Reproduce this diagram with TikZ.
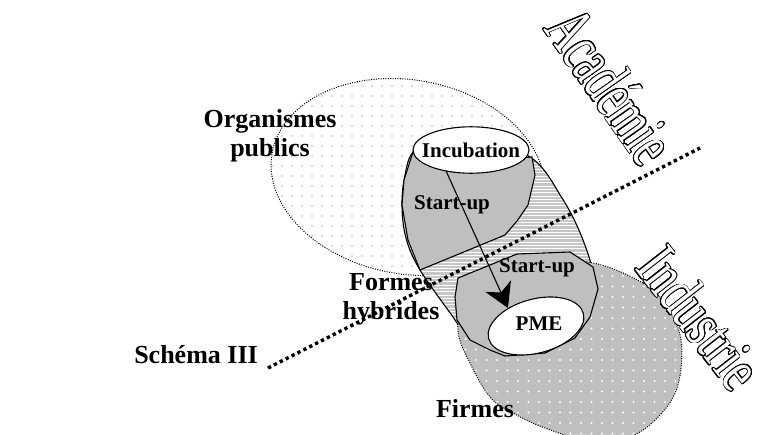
\documentclass[tikz,border=0pt]{standalone}
\usepackage{fontspec}
\setmainfont{Liberation Serif}
\usepackage[copies]{contour}
\usetikzlibrary{arrows.meta,shapes.geometric}
\contourlength{0.8pt}
\contournumber{24}
\tikzset{
	shell/.style={draw=black,line width=1.1pt},
	dotrim/.style={draw=black,line width=1pt,dash pattern=on 1pt off 1.4pt},
	divider/.style={line width=3.4pt,dash pattern=on 3.4pt off 3.2pt},
	lbl/.style={font=\fontsize{26}{29}\selectfont\bfseries,inner sep=0pt,align=center},
	inlbl/.style={font=\fontsize{21}{24}\selectfont\bfseries,inner sep=0pt},
	wordart/.style={inner sep=0pt,text=white}
}
\newcommand\hybpath{plot[smooth cycle,tension=0.6] coordinates {(470,138) (530,157) (562,198) (583,240) (595,283) (592,320) (570,350) (530,362) (490,352) (466,336) (453,317) (420,270) (406,238) (402,205) (405,175) (413,152) (435,140)}}
\newcommand\firmpath{plot[smooth cycle,tension=0.6] coordinates {(587,262) (643,283) (667,307) (681,340) (678,385) (660,415) (630,437) (590,441) (545,428) (513,413) (490,397) (470,363) (458,330) (468,295) (520,268)}}
\begin{document}
\begin{tikzpicture}[x=1pt,y=-1pt,line join=round]
	\useasboundingbox (0,0) rectangle (759,434);
	\begin{scope}
		\clip[rotate around={-10:(408,177)}] (408,177) ellipse (138 and 97);
		\fill[white] (260,70) rectangle (560,290);
		\foreach \i in {0,...,29}{\foreach \j in {0,...,21}{\fill[gray!35] (272+10*\i,76+10*\j) circle (1.1pt);}}
	\end{scope}
	\draw[dotrim,rotate around={-10:(408,177)}] (408,177) ellipse (138 and 97);
	\begin{scope}
		\clip \hybpath;
		\fill[gray!45] (390,120) rectangle (610,380);
		\foreach \k in {0,...,80}{\draw[white,line width=1pt] (390,130+3.3*\k) -- (610,130+3.3*\k);}
	\end{scope}
	\draw[shell] \hybpath;
	\path (268,368) coordinate (divA) (700,148) coordinate (divB);
	\draw[divider] (divA) -- (divB);
	\begin{scope}
		\clip \firmpath;
		\fill[gray!50] (440,250) rectangle (700,445);
		\foreach \i in {0,...,22}{\foreach \j in {0,...,18}{\fill[white] (455+10.5*\i,255+10.5*\j) circle (1.2pt);}}
	\end{scope}
	\draw[dotrim] \firmpath;
	\draw[shell,fill=gray!50] (413,152) -- (404,180) -- (402,205) -- (408,240) -- (420,270) -- (505,235) -- (517,221) -- (528,205) -- (535,175) -- (532,157) -- (470,162) -- cycle;
	\draw[shell,fill=gray!50] (458,278) -- (517,254) -- (570,252) -- (593,267) -- (598,289) -- (590,317) -- (575,338) -- (545,353) -- (505,356) -- (490,350) -- (470,340) -- (457,320) -- (455,297) -- cycle;
	\node[shell,fill=white,ellipse,inner xsep=-8pt,inner ysep=9pt,outer sep=0pt,font=\fontsize{21}{24}\selectfont\bfseries] (incub) at (471,150) {Incubation};
	\draw[shell,fill=white,rotate around={15:(536,326)}] (536,326) ellipse (49 and 27);
	\node[inlbl] (pme) at (539,324) {PME};
	\coordinate (pmetip) at (508,308);
	\node[inlbl] (startA) at (452,205) {Start-up};
	\node[inlbl] (startB) at (537,268) {Start-up};
	\draw[line width=1.1pt,-{Stealth[length=24pt,width=28pt,inset=7pt]}] (incub.220) -- (pmetip);
	\node[lbl] (orgpub) at (270,136) {Organismes\\publics};
	\node[lbl] (formhyb) at (391,299) {Formes\\hybrides};
	\node[lbl] (firmes) at (475,409) {Firmes};
	\node[lbl,anchor=east] (schema) at (258,355) {Schéma III};
	\node[wordart,rotate=-55] (acad) at (611,86) {\fontsize{68}{68}\selectfont\contour{black}{\scalebox{0.62}[1]{Académie}}};
	\node[wordart,rotate=-52] (indus) at (700,318) {\fontsize{64}{64}\selectfont\contour{black}{\scalebox{0.7}[1]{Industrie}}};
\end{tikzpicture}
\end{document}
